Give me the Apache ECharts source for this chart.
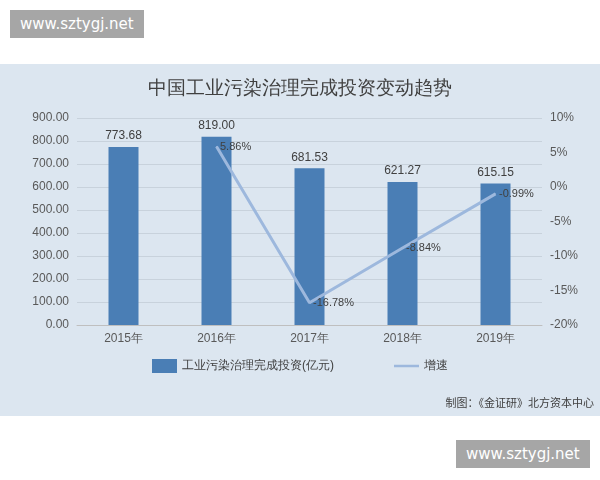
<!DOCTYPE html>
<html>
<head>
<meta charset="utf-8">
<script src="https://cdn.jsdelivr.net/npm/echarts@6/dist/echarts.min.js"></script>
<style>
  body { margin: 0; background: #fff; font-family: "Noto Sans CJK SC", sans-serif; }
  #wrap { position: relative; width: 600px; height: 480px; }
  #chart { position: absolute; left: 0; top: 64px; width: 600px; height: 352px; background: #dce6f0; }
  .badge { position: absolute; background: #a6a6a6; color: #fff; font-size: 15px; padding: 5px 10px; font-family: "DejaVu Sans", sans-serif; }
</style>
</head>
<body>
<div id="wrap">
  <div class="badge" style="left:10px;top:10px;">www.sztygj.net</div>
  <div id="chart"></div>
  <div class="badge" style="left:456px;top:440px;">www.sztygj.net</div>
</div>
<script>
const years = ['2015年', '2016年', '2017年', '2018年', '2019年'];
const investment = [773.68, 819.00, 681.53, 621.27, 615.15];
const growth = [null, 5.86, -16.78, -8.84, -0.99];

const chart = echarts.init(document.getElementById('chart'));
const axisText = { color: '#595959', fontSize: 12 };
chart.setOption({
  animation: false,
  title: {
    text: '中国工业污染治理完成投资变动趋势',
    left: 'center',
    top: 10,
    textStyle: { fontSize: 19, fontWeight: 'normal', color: '#404040' },
  },
  grid: { left: 77, right: 58, top: 54, bottom: 91 },
  legend: {
    bottom: 38,
    itemGap: 60,
    textStyle: { color: '#404040', fontSize: 12 },
    data: [
      { name: '工业污染治理完成投资(亿元)', icon: 'rect' },
      { name: '增速', icon: 'path://M0,4 L30,4 L30,7 L0,7 Z' },
    ],
  },
  graphic: [{
    type: 'text', right: 6, bottom: 8,
    style: { text: '制图：《金证研》北方资本中心', fill: '#404040', font: '11px "Noto Sans CJK SC"' },
  }],
  xAxis: {
    type: 'category',
    data: years,
    axisTick: { show: false },
    axisLine: { lineStyle: { color: '#bfbfbf' } },
    axisLabel: axisText,
  },
  yAxis: [
    {
      type: 'value', min: 0, max: 900, interval: 100,
      axisLabel: Object.assign({ formatter: (v) => v.toFixed(2) }, axisText),
      splitLine: { lineStyle: { color: '#c8d2dc' } },
    },
    {
      type: 'value', min: -20, max: 10, interval: 5,
      axisLabel: Object.assign({ formatter: '{value}%' }, axisText),
      splitLine: { show: false },
    },
  ],
  series: [
    {
      name: '工业污染治理完成投资(亿元)',
      type: 'bar',
      barWidth: 30,
      data: investment,
      itemStyle: { color: '#4a7eb5' },
      label: { show: true, position: 'top', color: '#404040', fontSize: 12, formatter: (p) => p.value.toFixed(2) },
    },
    {
      name: '增速',
      type: 'line',
      yAxisIndex: 1,
      data: growth,
      showSymbol: true,
      symbol: 'circle',
      symbolSize: 1,
      lineStyle: { color: '#9db8dd', width: 3 },
      itemStyle: { color: '#9db8dd' },
      label: {
        show: true, position: 'right', distance: 3, color: '#404040', fontSize: 11,
        formatter: (p) => p.value.toFixed(2) + '%',
      },
    },
  ],
});
</script>
</body>
</html>
